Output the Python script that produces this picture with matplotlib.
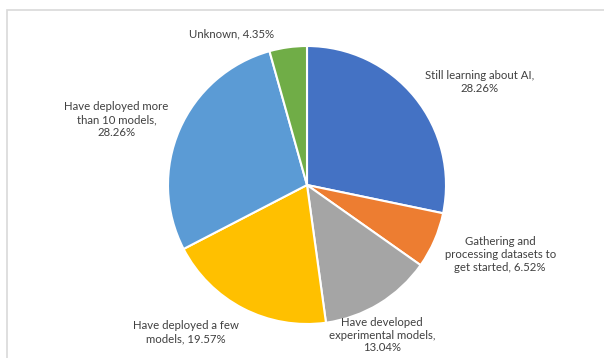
import matplotlib
matplotlib.use("Agg")
import matplotlib.pyplot as plt
from matplotlib.patches import Rectangle

# data
categories = ["Still learning about AI,\n",
              "Gathering and\nprocessing datasets to\nget started,",
              "Have developed\nexperimental models,\n",
              "Have deployed a few\nmodels,",
              "Have deployed more\nthan 10 models,\n",
              "Unknown,"]
shares = [28.26, 6.52, 13.04, 19.57, 28.26, 4.35]
colors = ["#4472C4", "#ED7D31", "#A5A5A5", "#FFC000", "#5B9BD5", "#70AD47"]

# where each label sits (pie radius = 1)
label_pos = [(1.24, 0.74), (1.39, -0.50), (0.54, -1.08),
             (-0.87, -1.06), (-1.37, 0.47), (-0.54, 1.09)]

W, H = 604, 358
fig = plt.figure(figsize=(W / 100, H / 100), dpi=100)

# light frame of the chart area
fig.patches.append(Rectangle((7 / W, -0.1), 1.2, (H - 10) / H + 0.1,
                             transform=fig.transFigure, fill=False,
                             edgecolor="#D9D9D9", linewidth=1.2))

cx, cy, r = 307, 185, 139
ax = fig.add_axes([(cx - r) / W, (H - cy - r) / H, 2 * r / W, 2 * r / H])
ax.pie(shares, colors=colors, startangle=90, counterclock=False, radius=1,
       wedgeprops=dict(edgecolor="white", linewidth=1.5))
ax.set_xlim(-1, 1)
ax.set_ylim(-1, 1)
ax.set_aspect("equal")
ax.axis("off")

for cat, val, (x, y) in zip(categories, shares, label_pos):
    sep = "" if cat.endswith("\n") else " "
    ax.text(x, y, f"{cat}{sep}{val:.2f}%", ha="center", va="center",
            fontsize=8.2, family="Lato", color="#404040", linespacing=1.2)

fig.savefig("out.png", dpi=100)
